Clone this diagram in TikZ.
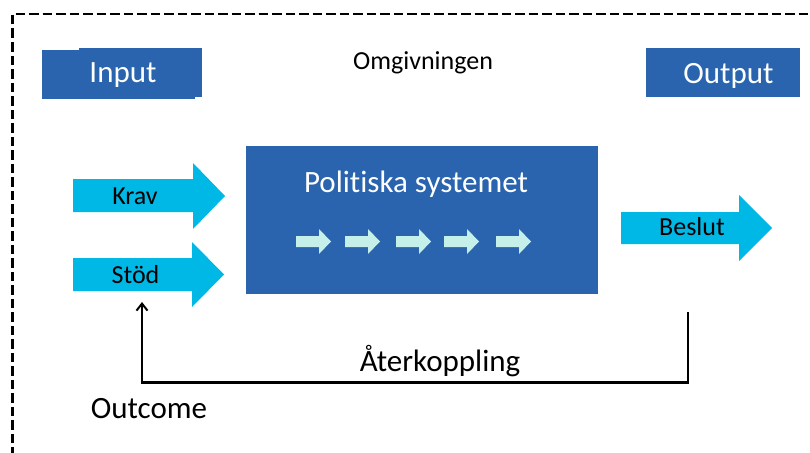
\documentclass[tikz,border=0pt]{standalone}
\usepackage{fontspec}
\setmainfont{Carlito}[Ligatures={NoCommon}]
\usetikzlibrary{arrows.meta}
\definecolor{boxblue}{HTML}{2A63AE}
\definecolor{arrcyan}{HTML}{00B8E6}
\definecolor{mint}{HTML}{C4F0E9}
\tikzset{
  bigtxt/.style={inner sep=0pt, anchor=base, font=\fontsize{31}{37}\selectfont},
  midtxt/.style={inner sep=0pt, anchor=base, font=\fontsize{26}{31}\selectfont},
  whitetxt/.style={text=white!96!mint},
  border/.style={draw=black, line width=2.2pt, dash pattern=on 9.5pt off 4pt},
  fbline/.style={draw=black, line width=2.2pt},
  bluebox/.style={fill=boxblue},
  cyanarrow/.style={fill=arrcyan},
  miniarrow/.style={fill=mint},
}
\begin{document}
\begin{tikzpicture}[x=1pt,y=-1pt]
\useasboundingbox (0,0) rectangle (810,452);
% environment border
\draw[border] (12.5,470) -- (12.5,14) -- (830,14);
% Input box
\fill[bluebox] (42,50) rectangle (195,99);
\fill[bluebox] (79,48) rectangle (202,97);
\node[bigtxt,whitetxt] (input) at (123,82) {Input};
% Output box
\fill[bluebox] (646,48) rectangle (800,97);
\node[bigtxt,whitetxt] (output) at (728.5,83) {Output};
% Omgivningen
\node[midtxt] (omg) at (423,70) {Omgivningen};
% system box
\node[bluebox, minimum width=352pt, minimum height=148pt, inner sep=0pt] (sys) at (422,220) {};
\node[bigtxt,whitetxt] (systitle) at (416,192) {Politiska systemet};
\foreach \x in {296,345,396,444,496}{
  \fill[miniarrow] (\x,236) -- (\x+23,236) -- (\x+23,229) -- (\x+35,241.5) -- (\x+23,254) -- (\x+23,247) -- (\x,247) -- cycle;
}
% Krav arrow
\fill[cyanarrow] (73,179) -- (193,179) -- (193,163) -- (225,196) -- (193,229) -- (193,212) -- (73,212) -- cycle;
\node[midtxt] (krav) at (135,204) {Krav};
% Stod arrow
\fill[cyanarrow] (73,258) -- (192,258) -- (192,242) -- (224,274.5) -- (192,307) -- (192,291) -- (73,291) -- cycle;
\node[midtxt] (stod) at (135.5,283) {Stöd};
% Beslut arrow
\fill[cyanarrow] (621,212) -- (739,212) -- (739,195) -- (772,228) -- (739,261) -- (739,244) -- (621,244) -- cycle;
\node[midtxt] (beslut) at (692,235) {Beslut};
% feedback
\coordinate (fbstart) at (688,312);
\coordinate (fbcornerR) at (688,382.5);
\coordinate (fbcornerL) at (142,382.5);
\coordinate (fbend) at (142,302);
\draw[fbline, -{Straight Barb[length=7pt,width=11pt,line width=2pt]}] (fbstart) -- (fbcornerR) -- (fbcornerL) -- (fbend);
\node[bigtxt] (aterk) at (440,371) {Återkoppling};
\node[bigtxt] (outcome) at (149,418) {Outcome};
\end{tikzpicture}
\end{document}
